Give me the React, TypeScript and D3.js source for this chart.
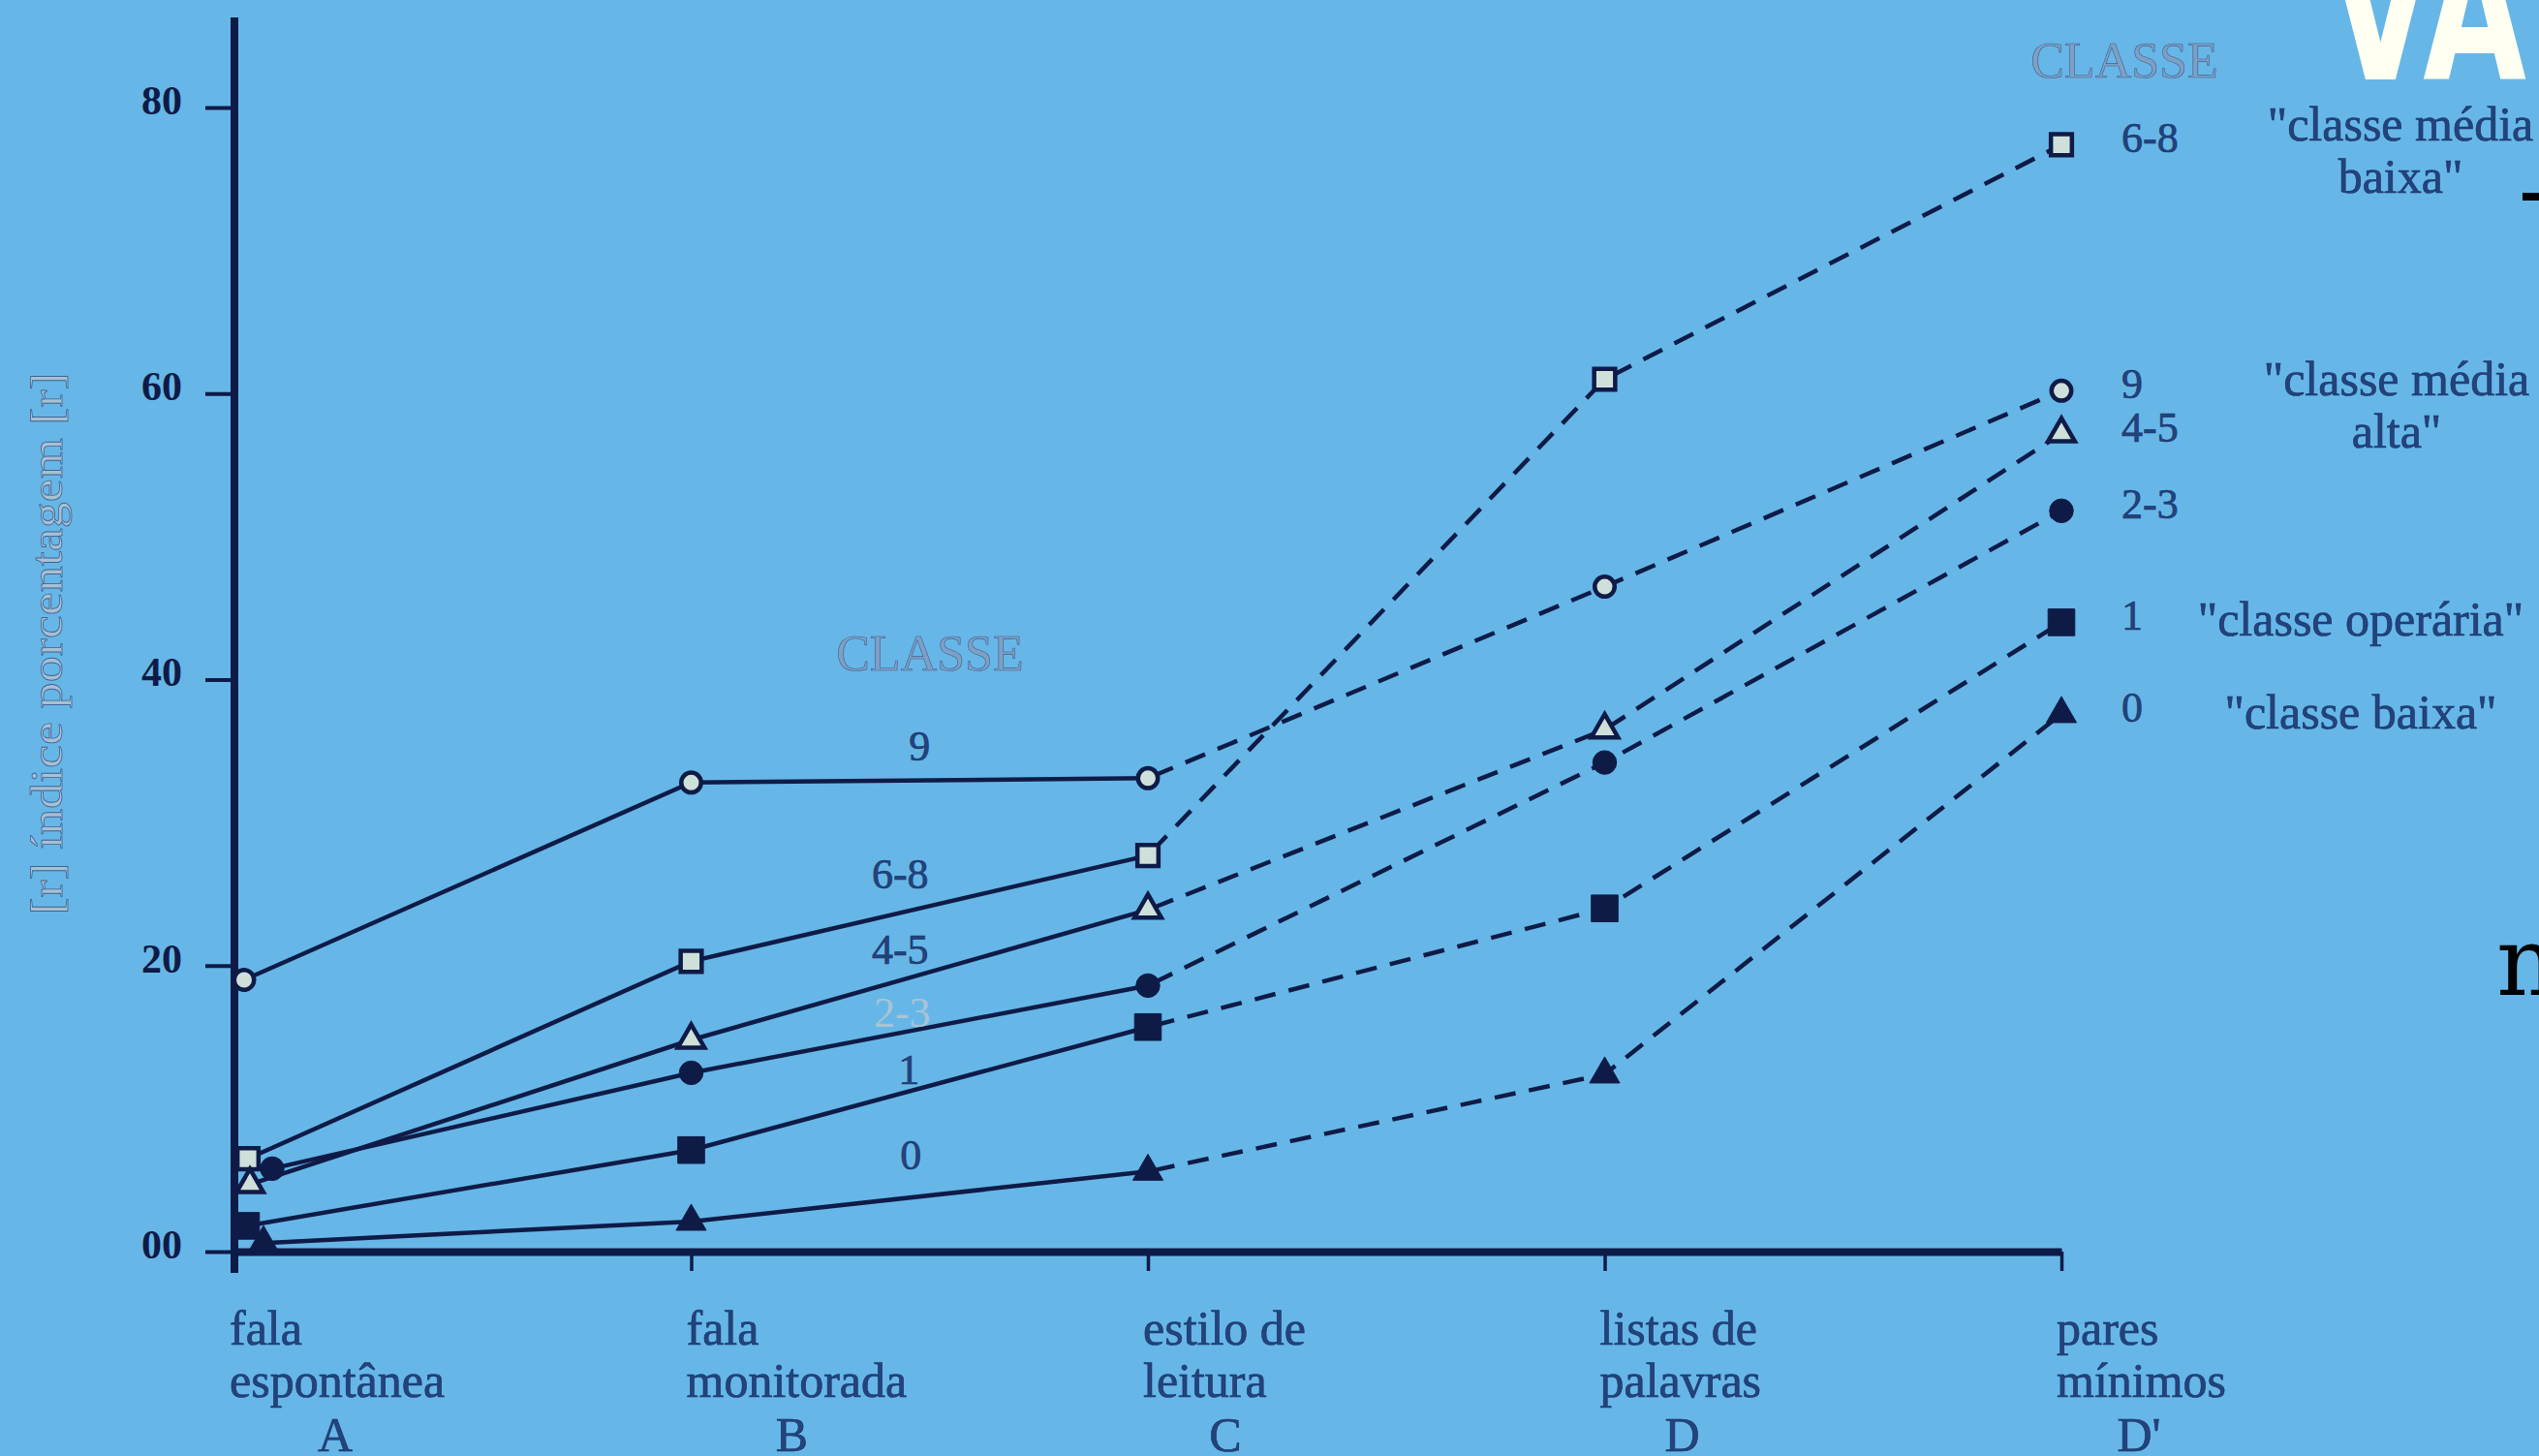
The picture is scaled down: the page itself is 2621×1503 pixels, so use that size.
import React, { useEffect, useRef } from "react";
import * as d3 from "d3";

// ---------- data ----------
const styleCodes = ["A", "B", "C", "D", "D'"];
const styleLine1 = ["fala", "fala", "estilo de", "listas de", "pares"];
const styleLine2 = ["espontânea", "monitorada", "leitura", "palavras", "mínimos"];

const yTickValues = [0, 20, 40, 60, 80];
const yTickLabels = ["00", "20", "40", "60", "80"];

const classKeys = ["9", "6-8", "4-5", "2-3", "1", "0"];
const values9 = [19.0, 32.8, 33.1, 46.5, 60.2];
const values68 = [6.5, 20.3, 27.7, 61.0, 77.4];
const values45 = [4.7, 14.8, 23.9, 36.5, 57.2];
const values23 = [5.8, 12.5, 18.6, 34.2, 51.8];
const values1 = [1.8, 7.1, 15.7, 24.0, 44.0];
const values0 = [0.6, 2.1, 5.6, 12.4, 37.6];
const classValues = [values9, values68, values45, values23, values1, values0];
const classMarkers = ["circle", "square", "triangle", "circle", "square", "triangle"];
const classFilled = [false, false, false, true, true, true];
const legendOrder = ["6-8", "9", "4-5", "2-3", "1", "0"];
const legendDescriptions: Record<string, string[]> = {
  "6-8": ["\"classe média", "baixa\""],
  "9": ["\"classe média", "alta\""],
  "1": ["\"classe operária\""],
  "0": ["\"classe baixa\""],
};
const classTitle = "CLASSE";
const yTitle = "[r] índice porcentagem [r]";

// ---------- layout ----------
const W = 2621;
const H = 1503;
const BG = "#66b7e7";
const INK = "#0f1b47";
const TEXT = "#24437a";
const FAINT = "#7f9fc4";
const SERIF = "'Liberation Serif', 'Times New Roman', serif";

const xScale = d3.scalePoint<string>().domain(styleCodes).range([242, 2128]);
const yScale = d3.scaleLinear().domain([0, 80]).range([1292, 111]);

// small horizontal nudges of the first (A) markers, as printed
const startNudge: Record<string, number> = { "9": 10, "6-8": 14, "4-5": 16, "2-3": 39, "1": 12, "0": 30 };
// inline label offsets relative to the B–C segment midpoint
const inlineOffset: Record<string, [number, number]> = {
  "9": [0, -21], "6-8": [-20, -21], "4-5": [-20, -11], "2-3": [-18, -2], "1": [-11, -5], "0": [-9, -28],
};
const descLayout: Record<string, { cx: number; dy: number }> = {
  "6-8": { cx: 2478, dy: -4 },
  "9": { cx: 2474, dy: 5 },
  "1": { cx: 2437, dy: 14 },
  "0": { cx: 2437, dy: 15 },
};

const symbolType: Record<string, d3.SymbolType> = {
  circle: d3.symbolCircle,
  square: d3.symbolSquare,
  triangle: d3.symbolTriangle,
};

function markerPath(kind: string, filled: boolean) {
  const size = filled
    ? kind === "circle" ? 470 : kind === "square" ? 760 : 420
    : kind === "circle" ? 330 : kind === "square" ? 470 : 330;
  return d3.symbol().type(symbolType[kind]).size(size)() as string;
}

export default function App() {
  const yAxisRef = useRef<SVGGElement>(null);
  const xAxisRef = useRef<SVGGElement>(null);

  useEffect(() => {
    document.body.style.margin = "0";
    document.body.style.background = BG;
    if (yAxisRef.current) {
      const g = d3.select(yAxisRef.current);
      g.call(
        d3
          .axisLeft(yScale)
          .tickValues(yTickValues)
          .tickFormat((_d, i) => yTickLabels[i])
          .tickSize(30)
          .tickPadding(24)
      );
      g.select(".domain").remove();
      g.selectAll(".tick line").attr("stroke", INK).attr("stroke-width", 4);
      g.selectAll(".tick text")
        .attr("fill", INK)
        .attr("font-family", SERIF)
        .attr("font-weight", "bold")
        .attr("font-size", 42)
        .attr("transform", "translate(0,-7)");
    }
    if (xAxisRef.current) {
      const g = d3.select(xAxisRef.current);
      g.call(d3.axisBottom(xScale).tickSize(20).tickSizeOuter(0).tickFormat(() => ""));
      g.select(".domain").attr("stroke", INK).attr("stroke-width", 8);
      g.selectAll(".tick line").attr("stroke", INK).attr("stroke-width", 3.5);
    }
  }, []);

  const series = classKeys.map((key, i) => {
    const pts = classValues[i].map((v, j) => [
      (xScale(styleCodes[j]) as number) + (j === 0 ? startNudge[key] : 0),
      yScale(v),
    ] as [number, number]);
    return { key, pts, marker: classMarkers[i], filled: classFilled[i] };
  });

  const line = d3.line<[number, number]>();
  const x0 = xScale(styleCodes[0]) as number;
  const xLast = xScale(styleCodes[styleCodes.length - 1]) as number;

  return (
    <div style={{ position: "absolute", left: 0, top: 0, width: W, height: H, background: BG }}>
      <svg width={W} height={H} viewBox={`0 0 ${W} ${H}`} style={{ display: "block" }}>
        <rect x={0} y={0} width={W} height={H} fill={BG} />

        {/* y title */}
        <text
          transform={`translate(64, ${(yScale(24) + yScale(61)) / 2}) rotate(-90)`}
          textAnchor="middle"
          fontFamily={SERIF}
          fontSize={46}
          textLength={560}
          lengthAdjust="spacingAndGlyphs"
          fill="#a7c0d2"
          stroke="#3f6294"
          strokeWidth={0.8}
        >
          {yTitle}
        </text>

        {/* axes */}
        <g ref={xAxisRef} transform={`translate(0, ${yScale(0)})`} />
        <g ref={yAxisRef} transform={`translate(${x0}, 0)`} />
        <line x1={x0} x2={x0} y1={yScale(86.3)} y2={yScale(0) + 22} stroke={INK} strokeWidth={8} />

        {/* lines */}
        {series.map((s) => (
          <g key={s.key}>
            <path d={line(s.pts.slice(0, 3)) as string} fill="none" stroke={INK} strokeWidth={4.5} />
            <path
              d={line(s.pts.slice(2)) as string}
              fill="none"
              stroke={INK}
              strokeWidth={4.5}
              strokeDasharray="22 14"
              strokeDashoffset={-6}
            />
          </g>
        ))}

        {/* markers */}
        {series.map((s) =>
          s.pts.map((p, j) => (
            <path
              key={s.key + j}
              d={markerPath(s.marker, s.filled)}
              transform={`translate(${p[0]}, ${p[1]})`}
              fill={s.filled ? INK : "#cfe0da"}
              stroke={INK}
              strokeWidth={s.filled ? 1 : 4.5}
            />
          ))
        )}

        {/* inline class labels */}
        <text x={960} y={692} textAnchor="middle" fontFamily={SERIF} fontSize={52} fill={FAINT} stroke="#3d5f92" strokeWidth={0.6}>
          {classTitle}
        </text>
        {series.map((s) => {
          const mx = (s.pts[1][0] + s.pts[2][0]) / 2 + inlineOffset[s.key][0];
          const my = (s.pts[1][1] + s.pts[2][1]) / 2 + inlineOffset[s.key][1];
          return (
            <text
              key={"il" + s.key}
              x={mx}
              y={my}
              textAnchor="middle"
              fontFamily={SERIF}
              fontSize={44}
              fill={s.key === "2-3" ? "#a9c4d4" : TEXT}
              stroke={s.key === "2-3" ? "none" : "#16306a"}
              strokeWidth={0.6}
            >
              {s.key}
            </text>
          );
        })}

        {/* right legend */}
        <text x={2193} y={80} textAnchor="middle" fontFamily={SERIF} fontSize={52} fill={FAINT} stroke="#3d5f92" strokeWidth={0.6}>
          {classTitle}
        </text>
        {legendOrder.map((key) => {
          const s = series.find((d) => d.key === key)!;
          const py = s.pts[s.pts.length - 1][1];
          const desc = legendDescriptions[key];
          const lay = descLayout[key];
          return (
            <g key={"lg" + key}>
              <text x={xLast + 62} y={py + 8} fontFamily={SERIF} fontSize={44} fill={TEXT} stroke="#16306a" strokeWidth={0.6}>
                {key}
              </text>
              {desc &&
                desc.map((t, k) => (
                  <text
                    key={k}
                    x={lay.cx}
                    y={py + lay.dy + k * 54}
                    textAnchor="middle"
                    fontFamily={SERIF}
                    fontSize={50}
                    fill={TEXT}
                    stroke="#16306a"
                    strokeWidth={0.6}
                  >
                    {t}
                  </text>
                ))}
            </g>
          );
        })}

        {/* x category labels */}
        {styleCodes.map((c, i) => {
          const x = xScale(c) as number;
          const letterDx = i < 2 ? 104 : 80;
          return (
            <g key={"xl" + c} fontFamily={SERIF} fill={TEXT} stroke="#16306a" strokeWidth={0.6}>
              <text x={x - 5} y={yScale(0) + 96} fontSize={50}>{styleLine1[i]}</text>
              <text x={x - 5} y={yScale(0) + 150} fontSize={50}>{styleLine2[i]}</text>
              <text x={x + letterDx} y={yScale(0) + 206} fontSize={50} textAnchor="middle">{c}</text>
            </g>
          );
        })}

        {/* fragments of the surrounding slide */}
        <text
          x={2404}
          y={82}
          fontFamily="'DejaVu Sans', sans-serif"
          fontWeight="bold"
          fontSize={200}
          fill="#fffff2"
          textLength={204}
          lengthAdjust="spacingAndGlyphs"
        >
          VA
        </text>
        <rect x={2604} y={199} width={17} height={8} fill="#000" />
        <text x={2577} y={1027} fontFamily="'DejaVu Serif', serif" fontSize={100} fill="#000">
          m
        </text>
      </svg>
    </div>
  );
}
